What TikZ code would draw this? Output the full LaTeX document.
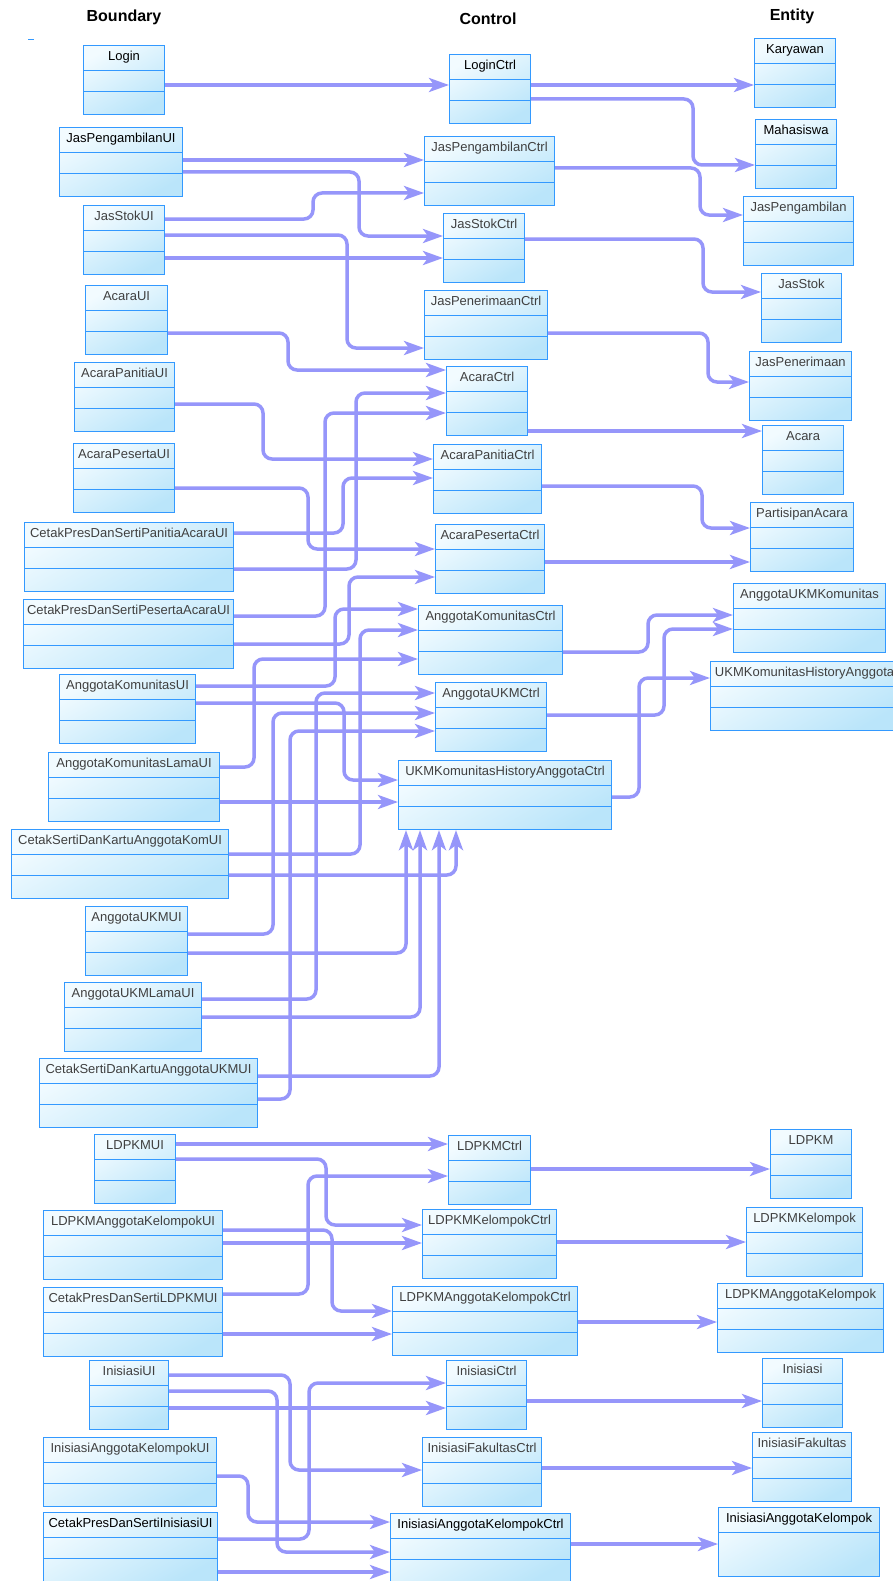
\documentclass[tikz,border=0pt]{standalone}
\usepackage{fontspec}
\setmainfont{Liberation Sans}
\usetikzlibrary{arrows.meta}

\definecolor{classBlue}{RGB}{51,153,255}
\definecolor{classTop}{RGB}{242,251,255}
\definecolor{classBottom}{RGB}{186,229,250}
\definecolor{nameGray}{RGB}{64,64,64}
\definecolor{linkBlue}{RGB}{150,150,250}

\begin{document}
\begin{tikzpicture}[
    x=1pt, y=-1pt,
    >={Stealth[length=20pt, width=14pt, inset=5pt]},
    classbox/.style={draw=classBlue, line width=1.1pt, top color=classTop, bottom color=classBottom,
      shading angle=30, anchor=north west, inner sep=0pt, text height=15pt, text depth=54pt,
      text=nameGray, font=\fontsize{13}{15}\selectfont,
      path picture={\draw[classBlue, line width=1.1pt]
        ([yshift=-25pt]path picture bounding box.north west) -- ([yshift=-25pt]path picture bounding box.north east)
        ([yshift=-46pt]path picture bounding box.north west) -- ([yshift=-46pt]path picture bounding box.north east);}},
    onerow/.style={path picture={\draw[classBlue, line width=1.1pt]
        ([yshift=-25pt]path picture bounding box.north west) -- ([yshift=-25pt]path picture bounding box.north east);}},
    link/.style={->, draw=linkBlue, line width=3.5pt, rounded corners=9pt},
    header/.style={font=\bfseries\fontsize{16}{18}\selectfont}
  ]
  \useasboundingbox (0,0) rectangle (893,1581);
  \clip (0,0) rectangle (893,1581);
  \fill[white] (0,0) rectangle (893,1581);

  % --- HEADERS ---
  \node[header] (boundary) at (124,17) {Boundary};
  \node[header] (control) at (488,19) {Control};
  \node[header] (entity) at (792,16) {Entity};
  \draw[classBlue, line width=1pt] (28,40) -- (34,40);

  % --- BOUNDARY ---
  \node[classbox, minimum width=81pt, text=black] (loginUI) at (83,45) {Login};
  \node[classbox, minimum width=123pt, text=black] (jpUI) at (59,127) {JasPengambilanUI};
  \node[classbox, minimum width=81pt] (jsUI) at (83,205) {JasStokUI};
  \node[classbox, minimum width=82pt] (acaraUI) at (85,285) {AcaraUI};
  \node[classbox, minimum width=100pt] (apnUI) at (74,362) {AcaraPanitiaUI};
  \node[classbox, minimum width=101pt] (apsUI) at (73,443) {AcaraPesertaUI};
  \node[classbox, minimum width=209pt] (cpPanitiaUI) at (24,522) {CetakPresDanSertiPanitiaAcaraUI};
  \node[classbox, minimum width=210pt] (cpPesertaUI) at (23,599) {CetakPresDanSertiPesertaAcaraUI};
  \node[classbox, minimum width=136pt] (akUI) at (59,674) {AnggotaKomunitasUI};
  \node[classbox, minimum width=171pt] (akLamaUI) at (48,752) {AnggotaKomunitasLamaUI};
  \node[classbox, minimum width=217pt] (cskKomUI) at (11,829) {CetakSertiDanKartuAnggotaKomUI};
  \node[classbox, minimum width=102pt] (aukmUI) at (85,906) {AnggotaUKMUI};
  \node[classbox, minimum width=137pt] (aukmLamaUI) at (64,982) {AnggotaUKMLamaUI};
  \node[classbox, minimum width=218pt] (cskUkmUI) at (39,1058) {CetakSertiDanKartuAnggotaUKMUI};
  \node[classbox, minimum width=81pt] (ldpkmUI) at (94,1134) {LDPKMUI};
  \node[classbox, minimum width=179pt] (ldakUI) at (43,1210) {LDPKMAnggotaKelompokUI};
  \node[classbox, minimum width=179pt] (cpLdpkmUI) at (43,1287) {CetakPresDanSertiLDPKMUI};
  \node[classbox, minimum width=79pt] (inisiasiUI) at (89,1360) {InisiasiUI};
  \node[classbox, minimum width=173pt] (iakUI) at (43,1437) {InisiasiAnggotaKelompokUI};
  \node[classbox, minimum width=174pt, text=black] (cpInisiasiUI) at (43,1512) {CetakPresDanSertiInisiasiUI};

  % --- CONTROL ---
  \node[classbox, minimum width=81pt, text=black] (loginCtrl) at (449,54) {LoginCtrl};
  \node[classbox, minimum width=130pt] (jpCtrl) at (424,136) {JasPengambilanCtrl};
  \node[classbox, minimum width=81pt] (jsCtrl) at (443,213) {JasStokCtrl};
  \node[classbox, minimum width=123pt] (jpnCtrl) at (424,290) {JasPenerimaanCtrl};
  \node[classbox, minimum width=81pt] (acaraCtrl) at (446,366) {AcaraCtrl};
  \node[classbox, minimum width=108pt] (apnCtrl) at (433,444) {AcaraPanitiaCtrl};
  \node[classbox, minimum width=109pt] (apsCtrl) at (435,524) {AcaraPesertaCtrl};
  \node[classbox, minimum width=144pt] (akCtrl) at (418,605) {AnggotaKomunitasCtrl};
  \node[classbox, minimum width=111pt] (aukmCtrl) at (435,682) {AnggotaUKMCtrl};
  \node[classbox, minimum width=213pt] (histCtrl) at (398,760) {UKMKomunitasHistoryAnggotaCtrl};
  \node[classbox, minimum width=82pt] (ldpkmCtrl) at (448,1135) {LDPKMCtrl};
  \node[classbox, minimum width=134pt] (ldkCtrl) at (422,1209) {LDPKMKelompokCtrl};
  \node[classbox, minimum width=185pt] (ldakCtrl) at (392,1286) {LDPKMAnggotaKelompokCtrl};
  \node[classbox, minimum width=80pt] (inisiasiCtrl) at (446,1360) {InisiasiCtrl};
  \node[classbox, minimum width=119pt] (ifCtrl) at (422,1437) {InisiasiFakultasCtrl};
  \node[classbox, minimum width=180pt, text=black] (iakCtrl) at (390,1513) {InisiasiAnggotaKelompokCtrl};

  % --- ENTITY ---
  \node[classbox, minimum width=81pt, text=black] (karyawan) at (754,38) {Karyawan};
  \node[classbox, minimum width=81pt, text=black] (mahasiswa) at (755,119) {Mahasiswa};
  \node[classbox, minimum width=110pt] (jasPengambilan) at (743,196) {JasPengambilan};
  \node[classbox, minimum width=80pt] (jasStok) at (761,273) {JasStok};
  \node[classbox, minimum width=102pt] (jasPenerimaan) at (749,351) {JasPenerimaan};
  \node[classbox, minimum width=81pt] (acara) at (762,425) {Acara};
  \node[classbox, minimum width=103pt] (partisipan) at (750,502) {PartisipanAcara};
  \node[classbox, minimum width=152pt] (ukmKom) at (733,583) {AnggotaUKMKomunitas};
  \node[classbox, minimum width=188pt] (ukmHist) at (710,661) {UKMKomunitasHistoryAnggota};
  \node[classbox, minimum width=81pt] (ldpkm) at (770,1129) {LDPKM};
  \node[classbox, minimum width=116pt] (ldpkmKel) at (746,1207) {LDPKMKelompok};
  \node[classbox, minimum width=166pt] (ldpkmAK) at (717,1283) {LDPKMAnggotaKelompok};
  \node[classbox, minimum width=80pt] (inisiasi) at (762,1358) {Inisiasi};
  \node[classbox, minimum width=99pt] (inisiasiFak) at (752,1432) {InisiasiFakultas};
  \node[classbox, onerow, minimum width=161pt, text=black] (inisiasiAK) at (718,1507) {InisiasiAnggotaKelompok};

  % --- LINKS ---

  % 1. Login and Jas
  \draw[link] (loginUI.east |- 0,85) -- (loginCtrl.west |- 0,85);
  \draw[link] (loginCtrl.east |- 0,85) -- (karyawan.west |- 0,85);
  \draw[link] (loginCtrl.east |- 0,99) -| (693,165) -- (mahasiswa.west |- 0,165);
  \draw[link] (jpUI.east |- 0,160) -- (jpCtrl.west |- 0,160);
  \draw[link] (jpUI.east |- 0,172) -| (359,236) -- (jsCtrl.west |- 0,236);
  \draw[link] (jsUI.east |- 0,219) -| (313,193) -- (jpCtrl.west |- 0,193);
  \draw[link] (jsUI.east |- 0,235) -| (347,348) -- (jpnCtrl.west |- 0,348);
  \draw[link] (jsUI.east |- 0,258) -- (jsCtrl.west |- 0,258);
  \draw[link] (jpCtrl.east |- 0,168) -| (700,215) -- (jasPengambilan.west |- 0,215);
  \draw[link] (jsCtrl.east |- 0,239) -| (703,292) -- (jasStok.west |- 0,292);
  \draw[link] (jpnCtrl.east |- 0,333) -| (708,382) -- (jasPenerimaan.west |- 0,382);

  % 2. Acara
  \draw[link] (acaraUI.east |- 0,333) -| (288,370) -- (acaraCtrl.west |- 0,370);
  \draw[link] (apnUI.east |- 0,404) -| (263,459) -- (apnCtrl.west |- 0,459);
  \draw[link] (apsUI.east |- 0,488) -| (308,549) -- (apsCtrl.west |- 0,549);
  \draw[link] (cpPanitiaUI.east |- 0,533) -| (343,478) -- (apnCtrl.west |- 0,478);
  \draw[link] (cpPanitiaUI.east |- 0,569) -| (356,393) -- (acaraCtrl.west |- 0,393);
  \draw[link] (cpPesertaUI.east |- 0,616) -| (325,413) -- (acaraCtrl.west |- 0,413);
  \draw[link] (cpPesertaUI.east |- 0,644) -| (349,577) -- (apsCtrl.west |- 0,577);
  \draw[link] (acaraCtrl.east |- 0,431) -- (acara.west |- 0,431);
  \draw[link] (apnCtrl.east |- 0,486) -| (702,528) -- (partisipan.west |- 0,528);
  \draw[link] (apsCtrl.east |- 0,562) -- (partisipan.west |- 0,562);

  % 3. Anggota komunitas / UKM
  \draw[link] (akUI.east |- 0,686) -| (335,609) -- (akCtrl.west |- 0,609);
  \draw[link] (akUI.east |- 0,703) -| (344,780) -- (histCtrl.west |- 0,780);
  \draw[link] (akLamaUI.east |- 0,767) -| (254,659) -- (akCtrl.west |- 0,659);
  \draw[link] (akLamaUI.east |- 0,802) -- (histCtrl.west |- 0,802);
  \draw[link] (cskKomUI.east |- 0,854) -| (360,630) -- (akCtrl.west |- 0,630);
  \draw[link] (cskKomUI.east |- 0,875) -| (histCtrl.south -| 456,0);
  \draw[link] (aukmUI.east |- 0,934) -| (273,713) -- (aukmCtrl.west |- 0,713);
  \draw[link] (aukmUI.east |- 0,953) -| (histCtrl.south -| 406,0);
  \draw[link] (aukmLamaUI.east |- 0,999) -| (316,693) -- (aukmCtrl.west |- 0,693);
  \draw[link] (aukmLamaUI.east |- 0,1017) -| (histCtrl.south -| 420,0);
  \draw[link] (cskUkmUI.east |- 0,1076) -| (histCtrl.south -| 439,0);
  \draw[link] (cskUkmUI.east |- 0,1099) -| (290,731) -- (aukmCtrl.west |- 0,731);
  \draw[link] (akCtrl.east |- 0,652) -| (648,615) -- (ukmKom.west |- 0,615);
  \draw[link] (aukmCtrl.east |- 0,715) -| (664,629) -- (ukmKom.west |- 0,629);
  \draw[link] (histCtrl.east |- 0,797) -| (639,678) -- (ukmHist.west |- 0,678);

  % 4. LDPKM
  \draw[link] (ldpkmUI.east |- 0,1144) -- (ldpkmCtrl.west |- 0,1144);
  \draw[link] (ldpkmUI.east |- 0,1159) -| (326,1225) -- (ldkCtrl.west |- 0,1225);
  \draw[link] (ldakUI.east |- 0,1230) -| (332,1311) -- (ldakCtrl.west |- 0,1311);
  \draw[link] (ldakUI.east |- 0,1243) -- (ldkCtrl.west |- 0,1243);
  \draw[link] (cpLdpkmUI.east |- 0,1294) -| (308,1176) -- (ldpkmCtrl.west |- 0,1176);
  \draw[link] (cpLdpkmUI.east |- 0,1334) -- (ldakCtrl.west |- 0,1334);
  \draw[link] (ldpkmCtrl.east |- 0,1169) -- (ldpkm.west |- 0,1169);
  \draw[link] (ldkCtrl.east |- 0,1242) -- (ldpkmKel.west |- 0,1242);
  \draw[link] (ldakCtrl.east |- 0,1322) -- (ldpkmAK.west |- 0,1322);

  % 5. Inisiasi
  \draw[link] (inisiasiUI.east |- 0,1375) -| (290,1470) -- (ifCtrl.west |- 0,1470);
  \draw[link] (inisiasiUI.east |- 0,1391) -| (277,1552) -- (iakCtrl.west |- 0,1552);
  \draw[link] (inisiasiUI.east |- 0,1408) -- (inisiasiCtrl.west |- 0,1408);
  \draw[link] (iakUI.east |- 0,1476) -| (248,1522) -- (iakCtrl.west |- 0,1522);
  \draw[link] (cpInisiasiUI.east |- 0,1539) -| (309,1383) -- (inisiasiCtrl.west |- 0,1383);
  \draw[link] (cpInisiasiUI.east |- 0,1572) -- (iakCtrl.west |- 0,1572);
  \draw[link] (inisiasiCtrl.east |- 0,1401) -- (inisiasi.west |- 0,1401);
  \draw[link] (ifCtrl.east |- 0,1468) -- (inisiasiFak.west |- 0,1468);
  \draw[link] (iakCtrl.east |- 0,1544) -- (inisiasiAK.west |- 0,1544);

\end{tikzpicture}
\end{document}
